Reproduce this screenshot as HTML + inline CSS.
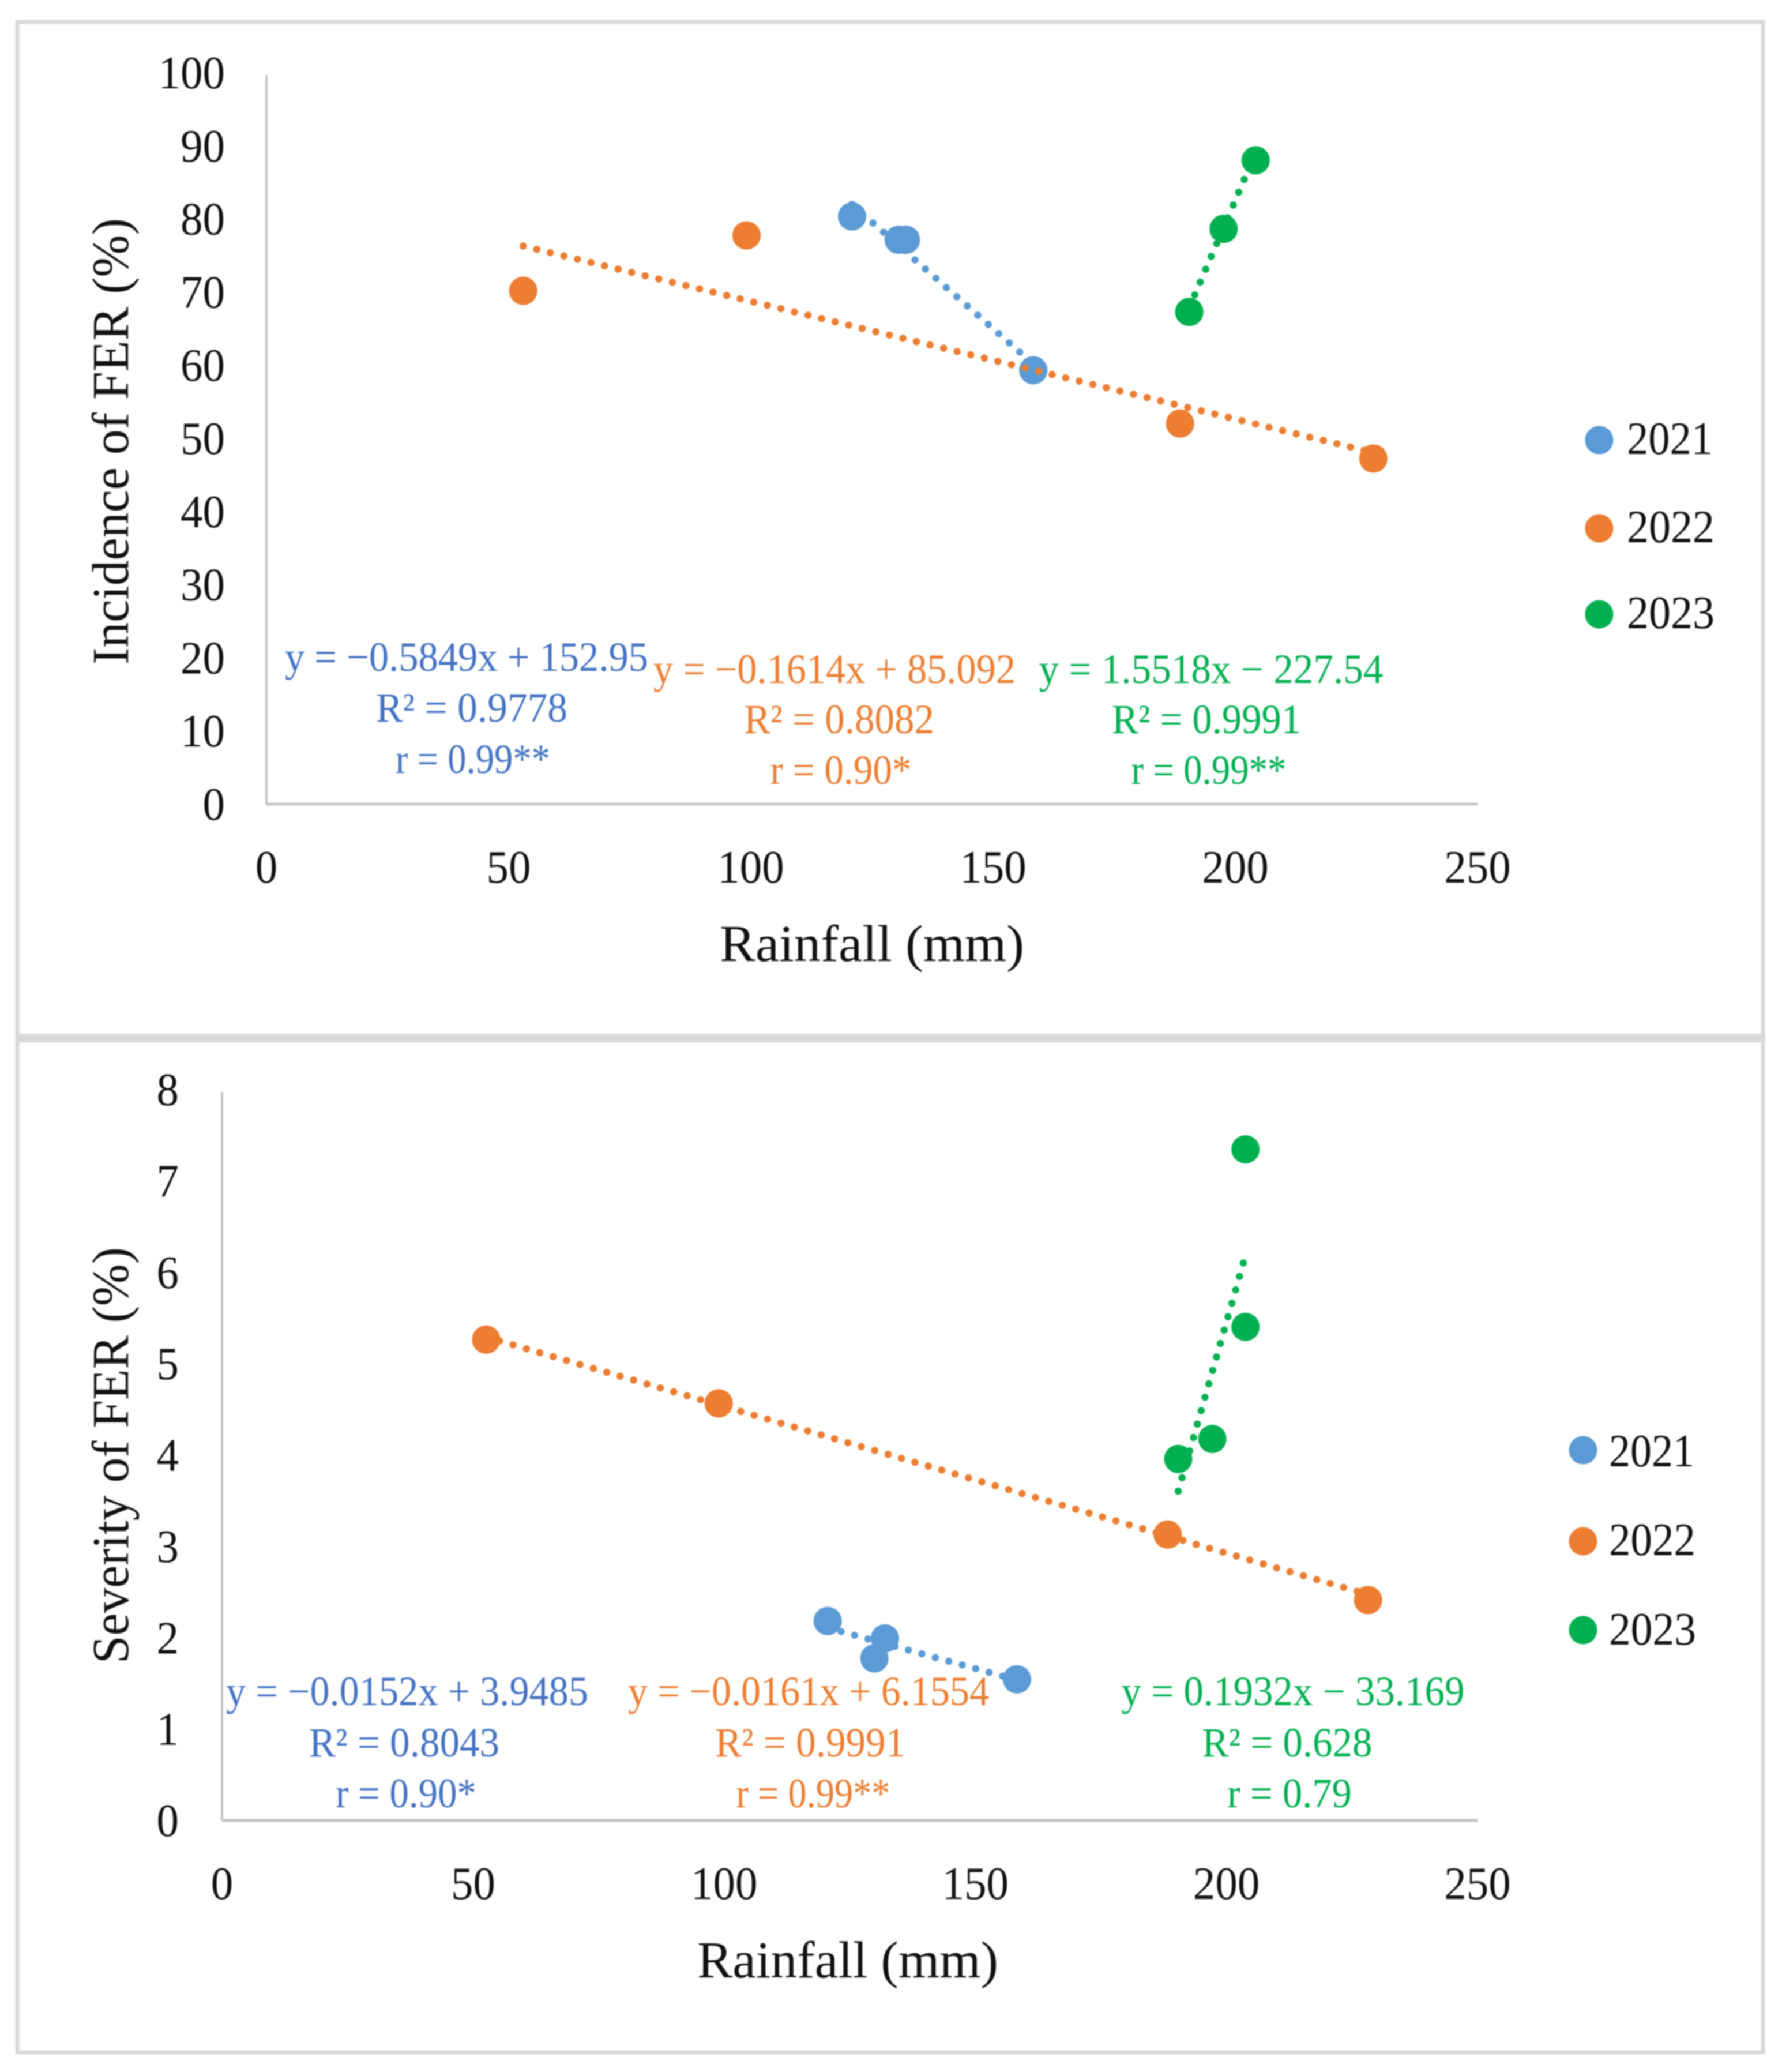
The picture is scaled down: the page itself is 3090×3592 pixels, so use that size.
<!DOCTYPE html>
<html lang="en">
<head>
<meta charset="utf-8">
<title>Incidence and severity of FER vs rainfall</title>
<style>
html,body{margin:0;padding:0;background:#fff;width:3090px;height:3592px;overflow:hidden}
svg{display:block;filter:blur(1.1px)}
text{font-family:"Liberation Serif",serif}
</style>
</head>
<body>
<svg id="figure" xmlns="http://www.w3.org/2000/svg" width="3090" height="3592" viewBox="0 0 3090 3592">
  <rect x="0" y="0" width="3090" height="3592" fill="#fff"/>
  <rect x="30" y="38" width="3027" height="3520" fill="none" stroke="#d9d9d9" stroke-width="7"/>
  <rect x="27" y="1792" width="3034" height="15" fill="#d9d9d9"/>

  <g id="chart-incidence"></g>
  <g id="chart-severity"></g>

  <!-- Top panel titles -->
  <text x="1512" y="1666" font-size="90" text-anchor="middle" fill="#111" textLength="528" lengthAdjust="spacingAndGlyphs">Rainfall (mm)</text>
  <text transform="translate(222,765) rotate(-90)" font-size="90" text-anchor="middle" fill="#111" textLength="774" lengthAdjust="spacingAndGlyphs">Incidence of FER (%)</text>

  <!-- Top panel annotations -->
  <g fill="#4472c4" font-size="72" text-anchor="middle">
    <text x="809" y="1163" textLength="630" lengthAdjust="spacingAndGlyphs">y = −0.5849x + 152.95</text>
    <text x="818" y="1251" textLength="332" lengthAdjust="spacingAndGlyphs">R² = 0.9778</text>
    <text x="820" y="1340" textLength="268" lengthAdjust="spacingAndGlyphs">r = 0.99**</text>
  </g>
  <g fill="#ed7d31" font-size="72" text-anchor="middle">
    <text x="1447" y="1184" textLength="628" lengthAdjust="spacingAndGlyphs">y = −0.1614x + 85.092</text>
    <text x="1455" y="1271" textLength="330" lengthAdjust="spacingAndGlyphs">R² = 0.8082</text>
    <text x="1458" y="1359" textLength="245" lengthAdjust="spacingAndGlyphs">r = 0.90*</text>
  </g>
  <g fill="#00b050" font-size="72" text-anchor="middle">
    <text x="2100" y="1184" textLength="597" lengthAdjust="spacingAndGlyphs">y = 1.5518x − 227.54</text>
    <text x="2092" y="1271" textLength="328" lengthAdjust="spacingAndGlyphs">R² = 0.9991</text>
    <text x="2096" y="1359" textLength="269" lengthAdjust="spacingAndGlyphs">r = 0.99**</text>
  </g>

  <!-- Top panel legend -->
  <g font-size="80" fill="#111">
    <g>
      <circle cx="2773" cy="763" r="24.5" fill="#5b9bd5"/>
      <text x="2821" y="787" textLength="149" lengthAdjust="spacingAndGlyphs">2021</text>
    </g>
    <g>
      <circle cx="2773" cy="916" r="24.5" fill="#ed7d31"/>
      <text x="2821" y="940" textLength="152" lengthAdjust="spacingAndGlyphs">2022</text>
    </g>
    <g>
      <circle cx="2773" cy="1065" r="24.5" fill="#00b050"/>
      <text x="2821" y="1089" textLength="152" lengthAdjust="spacingAndGlyphs">2023</text>
    </g>
  </g>

  <!-- Bottom panel titles -->
  <text x="1470" y="3428" font-size="90" text-anchor="middle" fill="#111" textLength="522" lengthAdjust="spacingAndGlyphs">Rainfall (mm)</text>
  <text transform="translate(222,2523) rotate(-90)" font-size="90" text-anchor="middle" fill="#111" textLength="722" lengthAdjust="spacingAndGlyphs">Severity of FER (%)</text>

  <!-- Bottom panel annotations -->
  <g fill="#4472c4" font-size="72" text-anchor="middle">
    <text x="706" y="2956" textLength="628" lengthAdjust="spacingAndGlyphs">y = −0.0152x + 3.9485</text>
    <text x="701" y="3045" textLength="330" lengthAdjust="spacingAndGlyphs">R² = 0.8043</text>
    <text x="704" y="3133" textLength="244" lengthAdjust="spacingAndGlyphs">r = 0.90*</text>
  </g>
  <g fill="#ed7d31" font-size="72" text-anchor="middle">
    <text x="1402" y="2956" textLength="626" lengthAdjust="spacingAndGlyphs">y = −0.0161x + 6.1554</text>
    <text x="1405" y="3045" textLength="330" lengthAdjust="spacingAndGlyphs">R² = 0.9991</text>
    <text x="1410" y="3133" textLength="267" lengthAdjust="spacingAndGlyphs">r = 0.99**</text>
  </g>
  <g fill="#00b050" font-size="72" text-anchor="middle">
    <text x="2242" y="2956" textLength="595" lengthAdjust="spacingAndGlyphs">y = 0.1932x − 33.169</text>
    <text x="2232" y="3045" textLength="295" lengthAdjust="spacingAndGlyphs">R² = 0.628</text>
    <text x="2236" y="3133" textLength="216" lengthAdjust="spacingAndGlyphs">r = 0.79</text>
  </g>

  <!-- Bottom panel legend -->
  <g font-size="80" fill="#111">
    <g>
      <circle cx="2745" cy="2514" r="24.5" fill="#5b9bd5"/>
      <text x="2790" y="2542" textLength="148" lengthAdjust="spacingAndGlyphs">2021</text>
    </g>
    <g>
      <circle cx="2745" cy="2672" r="24.5" fill="#ed7d31"/>
      <text x="2790" y="2696" textLength="150" lengthAdjust="spacingAndGlyphs">2022</text>
    </g>
    <g>
      <circle cx="2745" cy="2826" r="24.5" fill="#00b050"/>
      <text x="2790" y="2851" textLength="151" lengthAdjust="spacingAndGlyphs">2023</text>
    </g>
  </g>
</svg>

<script>
// Shared axis ticks
const rainfallTicks = [0, 50, 100, 150, 200, 250];
const incidenceTicks = [0, 10, 20, 30, 40, 50, 60, 70, 80, 90, 100];
const severityTicks = [0, 1, 2, 3, 4, 5, 6, 7, 8];

// Series names
const years = ['2021', '2022', '2023'];

// Incidence of FER: observed points
const incidenceRain2021 = [120.9, 130.5, 132, 158.3];
const incidenceValues2021 = [80.6, 77.4, 77.4, 59.5];
const incidenceRain2022 = [53, 99.1, 188.6, 228.5];
const incidenceValues2022 = [70.4, 78, 52.2, 47.4];
const incidenceRain2023 = [190.5, 197.6, 204.2];
const incidenceValues2023 = [67.5, 78.9, 88.3];

// Incidence of FER: printed trendline coefficients
const incidenceSlopes = [-0.5849, -0.1614, 1.5518];
const incidenceIntercepts = [152.95, 85.092, -227.54];

// Severity of FER: observed points
const severityRain2021 = [120.6, 132, 129.9, 158.3];
const severityValues2021 = [2.19, 2, 1.78, 1.55];
const severityRain2022 = [52.6, 98.9, 188.3, 228.2];
const severityValues2022 = [5.28, 4.58, 3.14, 2.42];
const severityRain2023 = [190.4, 197.2, 203.8, 203.8];
const severityValues2023 = [3.97, 4.19, 5.42, 7.37];

// Severity of FER: printed trendline coefficients
const severitySlopes = [-0.0152, -0.0161, 0.1932];
const severityIntercepts = [3.9485, 6.1554, -33.169];

const SVG_NS = 'http://www.w3.org/2000/svg';
const markerColors = ['#5b9bd5', '#ed7d31', '#00b050'];

function shape(parent, tag, name, attrs, content) {
  const el = document.createElementNS(SVG_NS, tag);
  
  
  Object.keys(attrs).forEach(function (key) { el.setAttribute(key, attrs[key]); });
  if (content !== undefined) el.textContent = content;
  parent.appendChild(el);
  return el;
}

function drawChart(rootId, box, yTicks, yMax, xValues, yValues, slopes, intercepts, prefix) {
  const root = document.getElementById(rootId);
  const xScale = function (v) { return box.left + (v / 250) * (box.right - box.left); };
  const yScale = function (v) { return box.bottom - (v / yMax) * (box.bottom - box.top); };

  shape(root, 'line', prefix + '-y-axis', { x1: box.left, x2: box.left, y1: box.top, y2: box.bottom, stroke: '#c4c4c4', 'stroke-width': 4 });
  shape(root, 'line', prefix + '-x-axis', { x1: box.left, x2: box.right, y1: box.bottom, y2: box.bottom, stroke: '#c4c4c4', 'stroke-width': 5 });

  yTicks.forEach(function (tick) {
    const label = String(tick);
    shape(root, 'text', prefix + '-y-tick-' + label, {
      x: box.yLabelRight, y: yScale(tick) + 27 - 4 * (tick / yMax), 'text-anchor': 'end', 'font-size': 80, fill: '#111',
      textLength: label.length * 38.5, lengthAdjust: 'spacingAndGlyphs'
    }, label);
  });

  rainfallTicks.forEach(function (tick) {
    const label = String(tick);
    shape(root, 'text', prefix + '-x-tick-' + label, {
      x: xScale(tick), y: box.xLabelBaseline, 'text-anchor': 'middle', 'font-size': 80, fill: '#111',
      textLength: label.length * 38.5, lengthAdjust: 'spacingAndGlyphs'
    }, label);
  });

  years.forEach(function (year, i) {
    const xs = xValues[i];
    const ys = yValues[i];
    const xMin = Math.min.apply(null, xs);
    const xMax = Math.max.apply(null, xs);
    shape(root, 'line', prefix + '-trendline-' + year, {
      x1: xScale(xMin), y1: yScale(slopes[i] * xMin + intercepts[i]),
      x2: xScale(xMax), y2: yScale(slopes[i] * xMax + intercepts[i]),
      stroke: markerColors[i], 'stroke-width': 12.5, 'stroke-linecap': 'round', 'stroke-dasharray': '0 24.2'
    });
    xs.forEach(function (x, j) {
      shape(root, 'circle', prefix + '-point-' + year + '-' + (j + 1), {
        cx: xScale(x), cy: yScale(ys[j]), r: 24.5, fill: markerColors[i]
      });
    });
  });
}

drawChart('chart-incidence',
  { left: 462, right: 2562, top: 130, bottom: 1394, yLabelRight: 390, xLabelBaseline: 1530 },
  incidenceTicks, 100,
  [incidenceRain2021, incidenceRain2022, incidenceRain2023],
  [incidenceValues2021, incidenceValues2022, incidenceValues2023],
  incidenceSlopes, incidenceIntercepts, 'incidence');

drawChart('chart-severity',
  { left: 385, right: 2562, top: 1893, bottom: 3156, yLabelRight: 310, xLabelBaseline: 3292 },
  severityTicks, 8,
  [severityRain2021, severityRain2022, severityRain2023],
  [severityValues2021, severityValues2022, severityValues2023],
  severitySlopes, severityIntercepts, 'severity');
</script>
</body>
</html>
